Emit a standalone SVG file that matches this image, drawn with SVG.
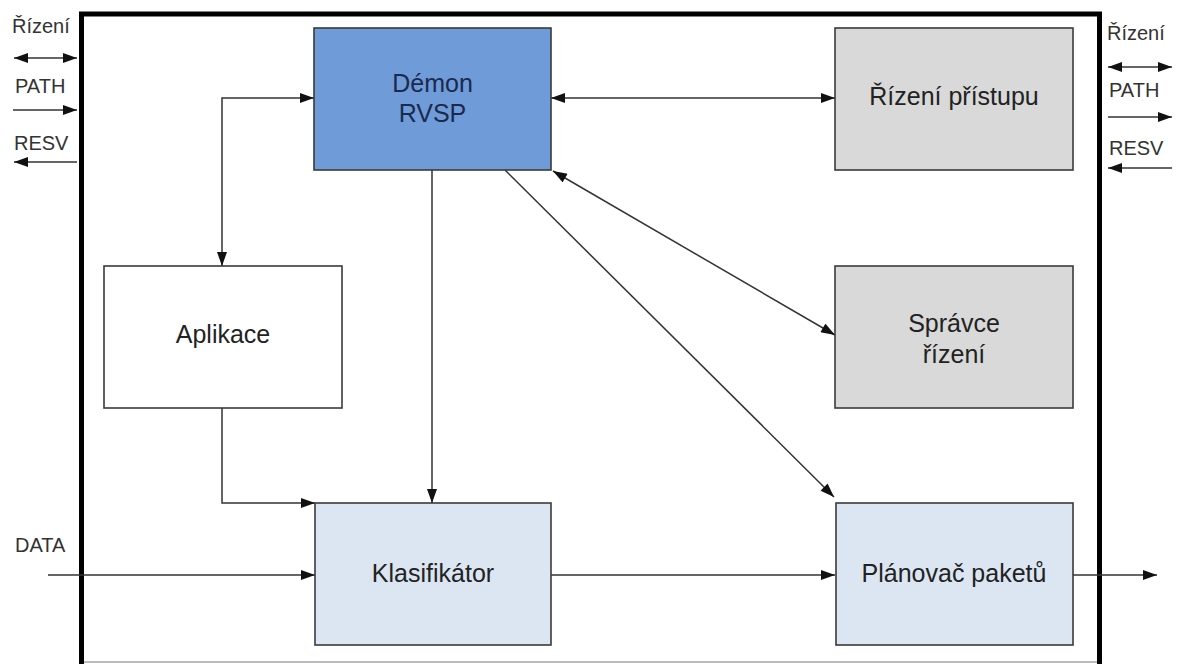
<svg xmlns="http://www.w3.org/2000/svg" width="1183" height="664" viewBox="0 0 1183 664">
<defs>
<marker id="ah" viewBox="0 0 14 10" refX="14" refY="5" markerWidth="15" markerHeight="10" markerUnits="userSpaceOnUse" orient="auto-start-reverse">
<path d="M0,0 L14,5 L0,10 z" fill="#111"/>
</marker>
<style>
.box{stroke:#3a3a3a;stroke-width:1.6}
.t{font-family:"Liberation Sans",Arial,sans-serif;font-size:25px;fill:#222;text-anchor:middle}
.lbl{font-family:"Liberation Sans",Arial,sans-serif;font-size:20px;fill:#333}
.c{fill:none;stroke:#333;stroke-width:1.5}
.e{marker-end:url(#ah)}
.s{marker-start:url(#ah)}
</style>
</defs>
<rect width="1183" height="664" fill="#fff"/>
<g id="frame">
<path d="M81.5,668 V14 H1099.5 V668" fill="none" stroke="#000" stroke-width="5"/>
<line x1="84" y1="662" x2="1097" y2="662" stroke="#777" stroke-width="1"/>
</g>
<g id="connectors">
<line class="c e s" x1="551" y1="98" x2="835" y2="98"/>
<path class="c e s" d="M314,98 H222 V266"/>
<line class="c e" x1="432" y1="170" x2="432" y2="503"/>
<path class="c e" d="M222,408 V503 H315"/>
<line class="c e" x1="48" y1="575" x2="315" y2="575"/>
<line class="c e" x1="551" y1="575" x2="835" y2="575"/>
<line class="c e" x1="1073" y1="575" x2="1157" y2="575"/>
<line class="c e s" x1="553" y1="171" x2="835" y2="335"/>
<line class="c e" x1="505" y1="170" x2="834" y2="497"/>
<line class="c e s" x1="14" y1="58" x2="77" y2="58"/>
<line class="c e" x1="13" y1="110" x2="77" y2="110"/>
<line class="c s" x1="14" y1="162" x2="77" y2="162"/>
<line class="c e s" x1="1108" y1="67" x2="1172" y2="67"/>
<line class="c e" x1="1108" y1="117" x2="1172" y2="117"/>
<line class="c s" x1="1108" y1="168" x2="1172" y2="168"/>
</g>
<g id="labels">
<text class="lbl" x="12" y="33">Řízení</text>
<text class="lbl" x="15" y="93">PATH</text>
<text class="lbl" x="14" y="150">RESV</text>
<text class="lbl" x="1107" y="40">Řízení</text>
<text class="lbl" x="1109" y="97">PATH</text>
<text class="lbl" x="1109" y="155">RESV</text>
<text class="lbl" x="15" y="552">DATA</text>
</g>
<g id="demon">
<rect class="box" x="314" y="28" width="237" height="142" fill="#6f9bd9"/>
<text class="t" x="432.5" y="92" style="fill:#1a2a4d">Démon</text>
<text class="t" x="432.5" y="122" style="fill:#1a2a4d">RVSP</text>
</g>
<g id="rizeni-pristupu">
<rect class="box" x="835" y="28" width="238" height="142" fill="#d9d9d9"/>
<text class="t" x="954" y="105">Řízení přístupu</text>
</g>
<g id="spravce-rizeni">
<rect class="box" x="835" y="266" width="238" height="142" fill="#d9d9d9"/>
<text class="t" x="954" y="332">Správce</text>
<text class="t" x="954" y="363">řízení</text>
</g>
<g id="aplikace">
<rect class="box" x="104" y="266" width="238" height="142" fill="#fff"/>
<text class="t" x="223" y="343">Aplikace</text>
</g>
<g id="klasifikator">
<rect class="box" x="315" y="503" width="236" height="142" fill="#dce6f2"/>
<text class="t" x="433" y="582">Klasifikátor</text>
</g>
<g id="planovac">
<rect class="box" x="836" y="503" width="237" height="142" fill="#dce6f2"/>
<text class="t" x="954" y="582">Plánovač paketů</text>
</g>
</svg>
